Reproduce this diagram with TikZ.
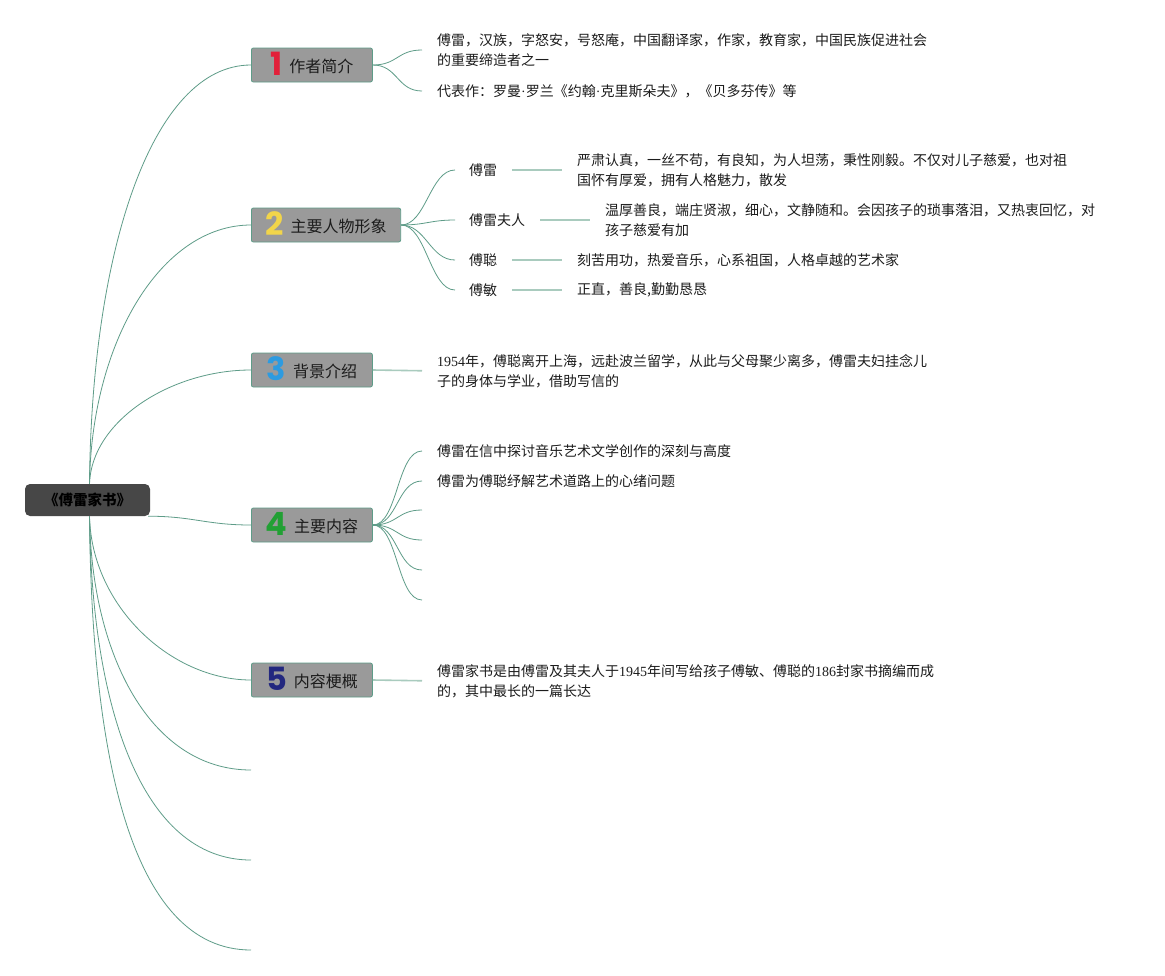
\documentclass[tikz,border=0pt]{standalone}
\usepackage{fontspec}
\usepackage{xcolor}
\usepackage{tikz}
\setmainfont{Noto Sans CJK SC}
\newfontfamily\numfont{Poppins}
\newfontfamily\digitfont{Liberation Serif}
\definecolor{branchgreen}{HTML}{5E9C88}
\definecolor{leafgreen}{HTML}{A9CBBE}
\definecolor{topicgray}{HTML}{9A9A9A}
\definecolor{rootgray}{HTML}{474747}
\definecolor{textdark}{HTML}{1C1C1C}
\definecolor{numred}{HTML}{E2203A}
\definecolor{numyellow}{HTML}{F2D54A}
\definecolor{numblue}{HTML}{2D9BE0}
\definecolor{numgreen}{HTML}{22A034}
\definecolor{numnavy}{HTML}{23287F}
\newcommand{\topicnum}[2]{\raisebox{-3pt}{\smash{\numfont\bfseries\fontsize{32}{32}\selectfont\color{#1}#2}}\hspace{7pt}}

\begin{document}
\begin{tikzpicture}[x=1pt, y=-1pt,
    branch/.style={draw=branchgreen, line width=0.8pt},
    twig/.style={draw=leafgreen, line width=1.6pt, shorten <=15pt, shorten >=15pt},
    topic/.style={draw=branchgreen, line width=0.8pt, fill=topicgray, rounded corners=2pt,
        minimum width=121pt, minimum height=34pt, inner xsep=14pt, inner ysep=0pt,
        text height=15pt, text depth=1pt,
        anchor=west, text=textdark, font=\fontsize{16}{18}\selectfont},
    leaf/.style={anchor=west, align=left, inner sep=0pt, text=textdark,
        font=\fontsize{14}{20}\selectfont}]

    % page
    \useasboundingbox[fill=white] (0,0) rectangle (1165,975);

    % central topic
    \node (root) [fill=rootgray, rounded corners=5pt, minimum width=125pt, minimum height=32pt,
        text=black, font=\bfseries\fontsize{14.5}{16}\selectfont] at (87.5,500) {《傅雷家书》};

    % main topics
    \node (t1) [topic] at (251,65)  {\topicnum{numred}{1}作者简介};
    \node (t2) [topic] at (251,225) {\topicnum{numyellow}{2}主要人物形象};
    \node (t3) [topic] at (251,370) {\topicnum{numblue}{3}背景介绍};
    \node (t4) [topic] at (251,525) {\topicnum{numgreen}{4}主要内容};
    \node (t5) [topic] at (251,680) {\topicnum{numnavy}{5}内容梗概};
    \coordinate (e1) at (251,770);
    \coordinate (e2) at (251,860);
    \coordinate (e3) at (251,950);

    % root branches
    \draw[branch] ([xshift=2pt]root.north) .. controls +(2,-230) and +(-100,0) .. (t1.west);
    \draw[branch] ([xshift=2pt]root.north) .. controls +(2,-142) and +(-90,0) .. (t2.west);
    \draw[branch] ([xshift=2pt]root.north) .. controls +(2,-63) and +(-80,0) .. (t3.west);
    \draw[branch] ([xshift=-2pt]root.south east) .. controls +(45,0) and +(-45,0) .. (t4.west);
    \draw[branch] ([xshift=2pt]root.south) .. controls +(2,90) and +(-80,0) .. (t5.west);
    \draw[branch] ([xshift=2pt]root.south) .. controls +(2,140) and +(-100,0) .. (e1);
    \draw[branch] ([xshift=2pt]root.south) .. controls +(2,189) and +(-110,0) .. (e2);
    \draw[branch] ([xshift=2pt]root.south) .. controls +(2,239) and +(-120,0) .. (e3);

    % 1 author
    \node (t1a) [leaf] at (437,50) {傅雷，汉族，字怒安，号怒庵，中国翻译家，作家，教育家，中国民族促进社会\\的重要缔造者之一};
    \node (t1b) [leaf] at (437,91) {代表作：罗曼{\digitfont ·}罗兰《约翰{\digitfont ·}克里斯朵夫》，《贝多芬传》等};
    \draw[branch] (t1.east) .. controls +(25,0) and +(-25,0) .. ([xshift=-15pt]t1a.west);
    \draw[branch] (t1.east) .. controls +(25,0) and +(-25,0) .. ([xshift=-15pt]t1b.west);

    % 2 characters
    \node (p1) [leaf] at (469,170) {傅雷};
    \node (p2) [leaf] at (469,220) {傅雷夫人};
    \node (p3) [leaf] at (469,260) {傅聪};
    \node (p4) [leaf] at (469,290) {傅敏};
    \foreach \p in {p1,p2,p3,p4}
        \draw[branch] (t2.east) .. controls +(25,0) and +(-25,0) .. ([xshift=-14pt]\p.west);
    \node (p1d) [leaf] at (577,170) {严肃认真，一丝不苟，有良知，为人坦荡，秉性刚毅。不仅对儿子慈爱，也对祖\\国怀有厚爱，拥有人格魅力，散发};
    \node (p2d) [leaf] at (605,220) {温厚善良，端庄贤淑，细心，文静随和。会因孩子的琐事落泪，又热衷回忆，对\\孩子慈爱有加};
    \node (p3d) [leaf] at (577,260) {刻苦用功，热爱音乐，心系祖国，人格卓越的艺术家};
    \node (p4d) [leaf] at (577,290) {正直，善良,勤勤恳恳};
    \draw[twig] (p1.east) -- (p1d.west);
    \draw[twig] (p2.east) -- (p2d.west);
    \draw[twig] (p3.east) -- (p3d.west);
    \draw[twig] (p4.east) -- (p4d.west);

    % 3 background
    \node (t3a) [leaf] at (437,371) {{\digitfont 1954}年，傅聪离开上海，远赴波兰留学，从此与父母聚少离多，傅雷夫妇挂念儿\\子的身体与学业，借助写信的};
    \draw[twig, shorten <=0pt] (t3.east) -- (t3a.west);

    % 4 content
    \node (t4a) [leaf] at (437,451) {傅雷在信中探讨音乐艺术文学创作的深刻与高度};
    \node (t4b) [leaf] at (437,481) {傅雷为傅聪纾解艺术道路上的心绪问题};
    \draw[branch] (t4.east) .. controls +(25,0) and +(-25,0) .. ([xshift=-15pt]t4a.west);
    \draw[branch] (t4.east) .. controls +(25,0) and +(-25,0) .. ([xshift=-15pt]t4b.west);
    \foreach \y [count=\i] in {510,540,570,600} {
        \coordinate (c4-\i) at (422,\y);
        \draw[branch] (t4.east) .. controls +(25,0) and +(-25,0) .. (c4-\i);
    }

    % 5 summary
    \node (t5a) [leaf] at (437,681) {傅雷家书是由傅雷及其夫人于{\digitfont 1945}年间写给孩子傅敏、傅聪的{\digitfont 186}封家书摘编而成\\的，其中最长的一篇长达};
    \draw[twig, shorten <=0pt] (t5.east) -- (t5a.west);

\end{tikzpicture}
\end{document}
